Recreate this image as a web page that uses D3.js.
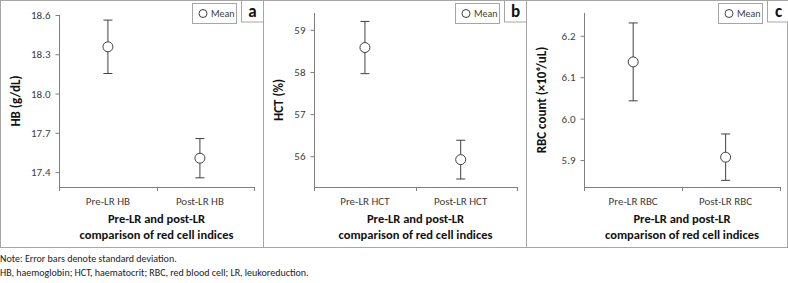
<!DOCTYPE html>
<html>
<head>
<meta charset="utf-8">
<script src="https://cdn.jsdelivr.net/npm/d3@7"></script>
<style>
  body { margin: 0; background: #fff; }
  svg { display: block; font-family: Carlito, Lato, sans-serif; }
</style>
</head>
<body>
<svg id="chart" width="788" height="283"></svg>
<script>
// categories + values (mean and SD)
var catsHB = ['Pre-LR HB', 'Post-LR HB'];
var meanHB = [18.357, 17.506];
var sdHB = [0.204, 0.150];

var catsHCT = ['Pre-LR HCT', 'Post-LR HCT'];
var meanHCT = [58.58, 55.92];
var sdHCT = [0.62, 0.46];

var catsRBC = ['Pre-LR RBC', 'Post-LR RBC'];
var meanRBC = [6.137, 5.907];
var sdRBC = [0.094, 0.056];

var ticksHB = [17.4, 17.7, 18.0, 18.3, 18.6];
var ticksHCT = [56, 57, 58, 59];
var ticksRBC = [5.9, 6.0, 6.1, 6.2];

var notes = ['Note: Error bars denote standard deviation.',
  'HB, haemoglobin; HCT, haematocrit; RBC, red blood cell; LR, leukoreduction.'];

var panels = [
  {id:'a', cats:catsHB, mean:meanHB, sd:sdHB, ticks:ticksHB, fmt:d3.format('.1f'),
   dom:[17.286, 18.6], top:15, title:'HB (g/dL)', ox:0, left:59},
  {id:'b', cats:catsHCT, mean:meanHCT, sd:sdHCT, ticks:ticksHCT, fmt:d3.format('d'),
   dom:[55.27, 59.4], top:13, title:'HCT (%)', ox:263, left:51},
  {id:'c', cats:catsRBC, mean:meanRBC, sd:sdRBC, ticks:ticksRBC, fmt:d3.format('.1f'),
   dom:[5.835, 6.255], top:13, title:'RBC count (×10⁶/uL)', ox:526, left:58}
];

var svg = d3.select('#chart');
var frame = '#a6a6a6', axisCol = '#7f7f7f', ink = '#404040';
var bottom = 187, right = 254;

// outer frame + dividers
svg.append('rect').attr('x',0.5).attr('y',0.5).attr('width',787).attr('height',247)
  .attr('fill','none').attr('stroke',frame);
[263, 526].forEach(function(x){
  svg.append('line').attr('x1',x+0.5).attr('x2',x+0.5).attr('y1',0).attr('y2',248)
    .attr('stroke',frame);
});

panels.forEach(function(p){
  var g = svg.append('g').attr('transform','translate('+p.ox+',0)');

  var y = d3.scaleLinear().domain(p.dom).range([bottom, p.top]);
  var x = d3.scalePoint().domain(p.cats).range([p.left, right]).padding(0.56).align(0.475);

  // y axis
  var ya = g.append('g').attr('transform','translate('+(p.left+0.5)+',0)')
    .call(d3.axisLeft(y).tickValues(p.ticks).tickFormat(p.fmt).tickSize(4).tickPadding(5));
  ya.select('.domain').attr('d','M0,'+p.top+'V'+bottom).attr('stroke',axisCol);
  ya.selectAll('.tick line').attr('stroke',axisCol);
  ya.selectAll('.tick text').attr('fill',ink).style('font-size','11px')
    .style('font-family','Carlito, Lato, sans-serif');

  // x axis line with ticks at ends and middle
  g.append('line').attr('x1',p.left).attr('x2',right).attr('y1',bottom+0.5).attr('y2',bottom+0.5)
    .attr('stroke',axisCol);
  [p.left, (p.left+right)/2, right].forEach(function(t){
    g.append('line').attr('x1',Math.round(t)+0.5).attr('x2',Math.round(t)+0.5)
      .attr('y1',bottom).attr('y2',bottom+4).attr('stroke',axisCol);
  });
  g.selectAll('.cat').data(p.cats).enter().append('text')
    .attr('x',function(d){ return x(d); }).attr('y',205)
    .attr('text-anchor','middle').attr('fill',ink).style('font-size','11px')
    .text(function(d){ return d; });

  // axis titles
  g.append('text').attr('x',(p.left+right)/2).attr('y',223).attr('text-anchor','middle')
    .style('font-size','12.5px').style('font-weight','bold').attr('fill','#111')
    .text('Pre-LR and post-LR');
  g.append('text').attr('x',(p.left+right)/2).attr('y',239).attr('text-anchor','middle')
    .style('font-size','12.5px').style('font-weight','bold').attr('fill','#111')
    .text('comparison of red cell indices');
  g.append('text').attr('transform','translate(20,'+((p.top+bottom)/2)+') rotate(-90)')
    .attr('text-anchor','middle').style('font-size','13px').style('font-weight','bold')
    .attr('fill','#111').text(p.title);

  // error bars + means
  var pts = p.cats.map(function(c,i){ return {c:c, m:p.mean[i], s:p.sd[i]}; });
  var eb = g.selectAll('.eb').data(pts).enter().append('g');
  eb.append('line').attr('x1',function(d){return x(d.c);}).attr('x2',function(d){return x(d.c);})
    .attr('y1',function(d){return y(d.m+d.s);}).attr('y2',function(d){return y(d.m-d.s);})
    .attr('stroke',ink);
  [1,-1].forEach(function(k){
    eb.append('line').attr('x1',function(d){return x(d.c)-4.5;}).attr('x2',function(d){return x(d.c)+4.5;})
      .attr('y1',function(d){return y(d.m+k*d.s);}).attr('y2',function(d){return y(d.m+k*d.s);})
      .attr('stroke',ink);
  });
  eb.append('circle').attr('cx',function(d){return x(d.c);}).attr('cy',function(d){return y(d.m);})
    .attr('r',5).attr('fill','#fff').attr('stroke',ink);

  // legend box
  g.append('rect').attr('x',192.5).attr('y',3.5).attr('width',44).attr('height',20)
    .attr('fill','#fff').attr('stroke',frame);
  g.append('circle').attr('cx',203).attr('cy',13.5).attr('r',4).attr('fill','#fff').attr('stroke',ink);
  g.append('text').attr('x',211).attr('y',17).style('font-size','10px').attr('fill',ink).text('Mean');

  // panel letter box
  g.append('rect').attr('x',241.5).attr('y',0.5).attr('width',22).attr('height',21.5)
    .attr('fill','#fff').attr('stroke',frame);
  g.append('text').attr('x',252.5).attr('y',16.5).attr('text-anchor','middle')
    .style('font-size','17px').style('font-weight','bold').attr('fill','#111').text(p.id);
});

// footnotes
svg.selectAll('.note').data(notes).enter().append('text')
  .attr('x',0).attr('y',function(d,i){ return 262 + i*14; })
  .style('font-size','10px').attr('fill','#222').text(function(d){ return d; });
</script>
</body>
</html>
